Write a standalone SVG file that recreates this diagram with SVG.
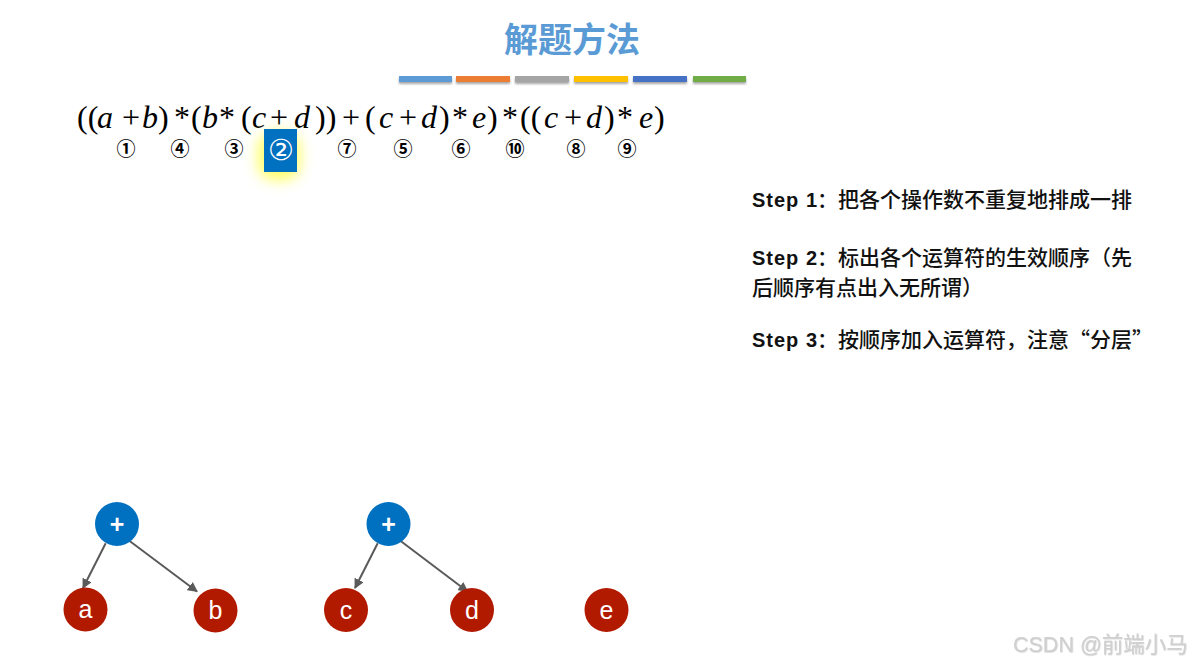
<svg xmlns="http://www.w3.org/2000/svg" width="1200" height="665" viewBox="0 0 1200 665">
<style>
.title{font-family:"Noto Sans CJK SC","Liberation Sans",sans-serif;font-size:34px;font-weight:bold;fill:#5b9bd5}
.f{font-family:"Liberation Serif","Times New Roman",serif;font-size:32px;fill:#000}
.f .i{font-style:italic}
.num{font-family:"Noto Sans CJK SC","DejaVu Sans",sans-serif;font-size:19px;font-weight:bold;fill:#000;text-anchor:middle}
.step{font-family:"Liberation Sans","Noto Sans CJK SC",sans-serif;font-size:20px;font-weight:bold;fill:#111;letter-spacing:1px}
.step .c{font-family:"Noto Sans CJK SC",sans-serif;font-size:21px;font-weight:500;letter-spacing:0}
.op{fill:#0070c0}
.leaf{fill:#b21a00}
.lbl{font-family:"Liberation Sans",Arial,sans-serif;font-size:25px;fill:#fff;text-anchor:middle}
.edge{stroke:#5a5a5a;stroke-width:2;fill:none;marker-end:url(#ah)}
.wm{font-family:"Liberation Sans","Noto Sans CJK SC",sans-serif;font-size:21.5px;fill:#d0d0d0}
</style>
<defs>
<marker id="ah" viewBox="0 0 10 10" refX="9" refY="5" markerWidth="5" markerHeight="5" orient="auto" markerUnits="strokeWidth">
<path d="M0,0 L10,5 L0,10 z" fill="#5a5a5a"/>
</marker>
<filter id="blur" x="-60%" y="-60%" width="220%" height="220%"><feGaussianBlur stdDeviation="7"/></filter>
<filter id="sh" x="-10%" y="-50%" width="120%" height="300%"><feDropShadow dx="0" dy="2" stdDeviation="1.2" flood-color="#000" flood-opacity="0.35"/></filter>
<filter id="wsh" x="-5%" y="-20%" width="110%" height="150%"><feDropShadow dx="0.5" dy="0.6" stdDeviation="0.4" flood-color="#999" flood-opacity="0.5"/></filter>
</defs>
<rect width="1200" height="665" fill="#fff"/>

<g id="title">
<text class="title" x="572" y="52" text-anchor="middle">解题方法</text>
</g>
<g id="bars" filter="url(#sh)">
<rect x="399" y="76" width="53" height="6" fill="#5b9bd5"/>
<rect x="456" y="76" width="54" height="6" fill="#ed7d31"/>
<rect x="515" y="76" width="54" height="6" fill="#a5a5a5"/>
<rect x="574" y="76" width="54" height="6" fill="#ffc000"/>
<rect x="633" y="76" width="54" height="6" fill="#4472c4"/>
<rect x="693" y="76" width="53" height="6" fill="#70ad47"/>
</g>

<g id="formula">
<text class="f" y="128"><tspan x="77">((</tspan><tspan class="i" x="97">a</tspan><tspan x="122">+</tspan><tspan class="i" x="142">b</tspan><tspan x="158">)</tspan><tspan x="174">*</tspan><tspan x="191">(</tspan><tspan class="i" x="202">b</tspan><tspan x="219">*</tspan><tspan x="241">(</tspan><tspan class="i" x="252">c</tspan><tspan x="270">+</tspan><tspan class="i" x="294">d</tspan><tspan x="315">))</tspan><tspan x="342">+</tspan><tspan x="365">(</tspan><tspan class="i" x="379">c</tspan><tspan x="399">+</tspan><tspan class="i" x="421">d</tspan><tspan x="439">)</tspan><tspan x="452">*</tspan><tspan class="i" x="472">e</tspan><tspan x="487">)</tspan><tspan x="502">*</tspan><tspan x="520">((</tspan><tspan class="i" x="544">c</tspan><tspan x="564">+</tspan><tspan class="i" x="586">d</tspan><tspan x="604">)</tspan><tspan x="617">*</tspan><tspan class="i" x="639">e</tspan><tspan x="654">)</tspan></text>
</g>

<g id="highlight">
<rect x="258" y="132" width="42" height="48" rx="16" fill="#ffff40" opacity="0.8" filter="url(#blur)"/>
<rect x="264" y="129" width="33" height="43" fill="#0070c0"/>
</g>

<g id="order">
<text class="num" x="126" y="156">①</text>
<text class="num" x="180" y="156">④</text>
<text class="num" x="234" y="156">③</text>
<text class="num" x="281" y="160" style="font-size:29px;font-weight:normal;fill:#fff;font-family:'DejaVu Sans',sans-serif">②</text>
<text class="num" x="347" y="156">⑦</text>
<text class="num" x="403" y="156">⑤</text>
<text class="num" x="461" y="156">⑥</text>
<text class="num" x="515" y="156">⑩</text>
<text class="num" x="576" y="156">⑧</text>
<text class="num" x="627" y="156">⑨</text>
</g>

<g id="steps">
<text class="step" x="752" y="207">Step 1<tspan class="c" x="817">：把各个操作数不重复地排成一排</tspan></text>
<text class="step" x="752" y="265">Step 2<tspan class="c" x="817">：标出各个运算符的生效顺序（先</tspan></text>
<text class="step" x="752" y="295"><tspan class="c">后顺序有点出入无所谓）</tspan></text>
<text class="step" x="752" y="347">Step 3<tspan class="c" x="817">：按顺序加入运算符，注意“分层”</tspan></text>
</g>

<g id="connectors">
<line class="edge" x1="105.7" y1="543.3" x2="83" y2="588"/>
<line class="edge" x1="128.3" y1="540" x2="197" y2="591.5"/>
<line class="edge" x1="377.7" y1="543.3" x2="355" y2="588"/>
<line class="edge" x1="399.3" y1="540" x2="467.5" y2="591.5"/>
</g>

<g id="node-plus1"><circle class="op" cx="117" cy="524" r="22"/><text class="lbl" x="117" y="533" font-weight="bold">+</text></g>
<g id="node-a"><circle class="leaf" cx="85.5" cy="609.5" r="22"/><text class="lbl" x="85.5" y="618">a</text></g>
<g id="node-b"><circle class="leaf" cx="215.5" cy="610.5" r="22"/><text class="lbl" x="215.5" y="619">b</text></g>
<g id="node-plus2"><circle class="op" cx="388.5" cy="524" r="22"/><text class="lbl" x="388.5" y="533" font-weight="bold">+</text></g>
<g id="node-c"><circle class="leaf" cx="346" cy="610" r="22"/><text class="lbl" x="346" y="619">c</text></g>
<g id="node-d"><circle class="leaf" cx="472" cy="610" r="22"/><text class="lbl" x="472" y="619">d</text></g>
<g id="node-e"><circle class="leaf" cx="606.5" cy="610" r="22"/><text class="lbl" x="606.5" y="619">e</text></g>

<g id="watermark">
<text class="wm" x="1013" y="652" filter="url(#wsh)">CSDN @前端小马</text>
</g>
</svg>
